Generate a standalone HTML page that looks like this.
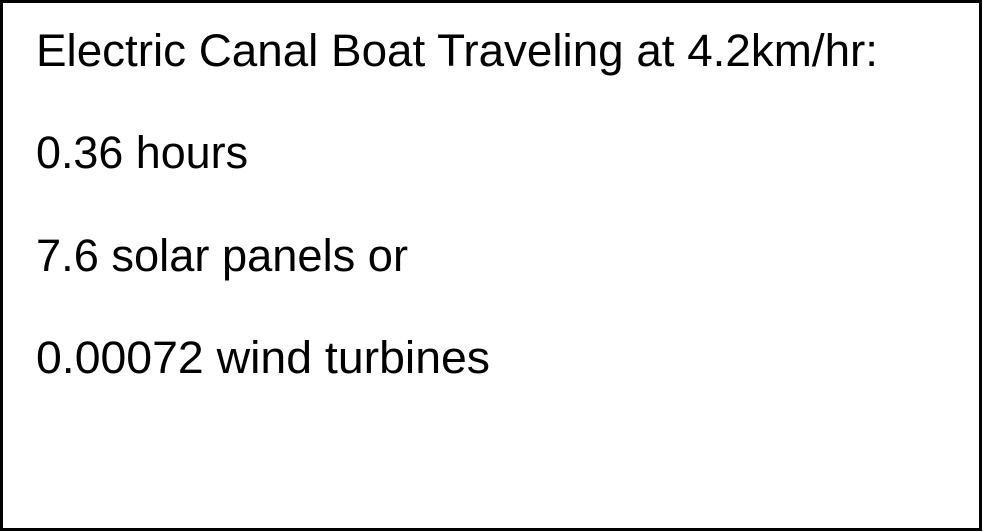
<!DOCTYPE html>
<html>
<head>
<meta charset="utf-8">
<style>
  html, body { margin: 0; padding: 0; background: #fff; }
  svg { display: block; }
  text { font-family: "Liberation Sans", sans-serif; font-size: 45px; fill: #000; }
</style>
</head>
<body>
<svg width="983" height="532" viewBox="0 0 983 532">
  <rect x="1.5" y="1.5" width="979" height="528" fill="#fff" stroke="#000" stroke-width="3"/>
  <text x="36" y="66" textLength="842" lengthAdjust="spacingAndGlyphs">Electric Canal Boat Traveling at 4.2km/hr:</text>
  <text x="36" y="168" textLength="212" lengthAdjust="spacingAndGlyphs">0.36 hours</text>
  <text x="36" y="271" textLength="372" lengthAdjust="spacingAndGlyphs">7.6 solar panels or</text>
  <text x="36" y="373" textLength="454" lengthAdjust="spacingAndGlyphs">0.00072 wind turbines</text>
</svg>
</body>
</html>
